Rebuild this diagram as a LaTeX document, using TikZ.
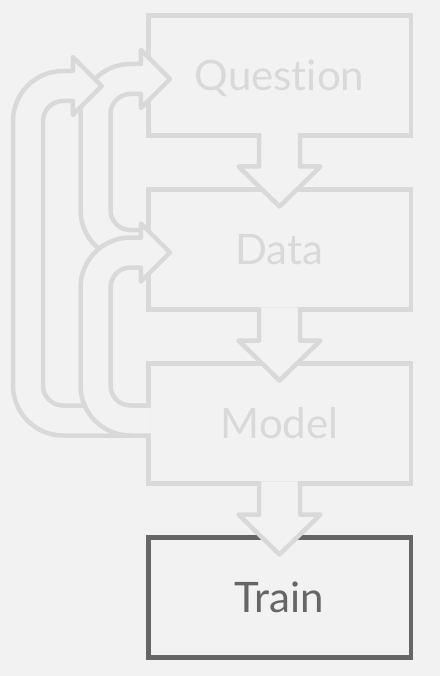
\documentclass[tikz,border=0pt]{standalone}
\usepackage{fontspec}
\setmainfont{Lato}[Ligatures=NoCommon]
\usetikzlibrary{positioning,calc}
\definecolor{paper}{HTML}{F2F2F2}
\definecolor{faint}{HTML}{D9D9D9}
\definecolor{ink}{HTML}{666666}
\tikzset{
  stage/.style={draw=faint,text=faint,line width=4.5pt,minimum width=262.5pt,minimum height=120pt,
    inner sep=0pt,outer sep=0pt,font=\fontsize{42}{42}\selectfont,text height=30pt,text depth=0pt},
  current/.style={stage,draw=ink,text=ink},
  hollow/.style={draw=faint,line width=4.5pt,line join=round}
}
% fat step arrow from the bottom of #1 into the top of #2
\newcommand\flowdown[2]{%
  \fill[paper] let \p1=(#1.south), \p2=(#2.north) in
    (\x1-20.5pt,\y1+2.25pt) -- (\x1-20.5pt,\y2+23pt) -- (\x1-41pt,\y2+23pt) -- (\x1,\y2-17pt)
    -- (\x1+41pt,\y2+23pt) -- (\x1+20.5pt,\y2+23pt) -- (\x1+20.5pt,\y1+2.25pt) -- cycle;
  \draw[hollow] let \p1=(#1.south), \p2=(#2.north) in
    (\x1-20.5pt,\y1+2.25pt) -- (\x1-20.5pt,\y2+23pt) -- (\x1-41pt,\y2+23pt) -- (\x1,\y2-17pt)
    -- (\x1+41pt,\y2+23pt) -- (\x1+20.5pt,\y2+23pt) -- (\x1+20.5pt,\y1+2.25pt);
}
% fat loop arrow: source node, tip point, column x, tail shift
\newcommand\loopback[4]{%
  \fill[paper] let \p1=([yshift=#4]#1.west), \p2=(#2) in
    (\x1+2.25pt,\y1-15pt) -- (#3pt+35pt,\y1-15pt) arc[start angle=270,end angle=180,radius=50pt]
    -- (#3pt-15pt,\y2-35pt) arc[start angle=180,end angle=90,radius=50pt]
    -- (\x2-29pt,\y2+15pt) -- (\x2-29pt,\y2+29pt) -- (\x2,\y2) -- (\x2-29pt,\y2-29pt) -- (\x2-29pt,\y2-15pt)
    -- (#3pt+35pt,\y2-15pt) arc[start angle=90,end angle=180,radius=20pt]
    -- (#3pt+15pt,\y1+35pt) arc[start angle=180,end angle=270,radius=20pt]
    -- (\x1+2.25pt,\y1+15pt) -- cycle;
  \draw[hollow] let \p1=([yshift=#4]#1.west), \p2=(#2) in
    (\x1+2.25pt,\y1-15pt) -- (#3pt+35pt,\y1-15pt) arc[start angle=270,end angle=180,radius=50pt]
    -- (#3pt-15pt,\y2-35pt) arc[start angle=180,end angle=90,radius=50pt]
    -- (\x2-29pt,\y2+15pt) -- (\x2-29pt,\y2+29pt) -- (\x2,\y2) -- (\x2-29pt,\y2-29pt) -- (\x2-29pt,\y2-15pt)
    -- (#3pt+35pt,\y2-15pt) arc[start angle=90,end angle=180,radius=20pt]
    -- (#3pt+15pt,\y1+35pt) arc[start angle=180,end angle=270,radius=20pt]
    -- (\x1+2.25pt,\y1+15pt);
}

\begin{document}
\begin{tikzpicture}[x=1pt,y=1pt,node distance=54pt]
  \fill[paper] (0,0) rectangle (440,-676);
  \useasboundingbox (0,0) rectangle (440,-676);
  \node[stage] (question) at (279.5,-75.5) {Quest\kern0pt ion};
  \node[stage,below=of question] (data) {Data};
  \node[stage,below=of data] (model) {Model};
  \node[current,below=of model] (train) {Train};
  % steps down
  \foreach \a/\b in {question/data,data/model,model/train}
    \flowdown{\a}{\b};
  % loops back
  \loopback{data}{[xshift=21.7pt,yshift=-3.5pt]question.west}{95.5}{4.5pt}
  \loopback{model}{[xshift=-46.5pt,yshift=-10.5pt]question.west}{28}{3pt}
  \loopback{model}{[xshift=21.7pt,yshift=-3pt]data.west}{95.5}{3pt}
\end{tikzpicture}
\end{document}
